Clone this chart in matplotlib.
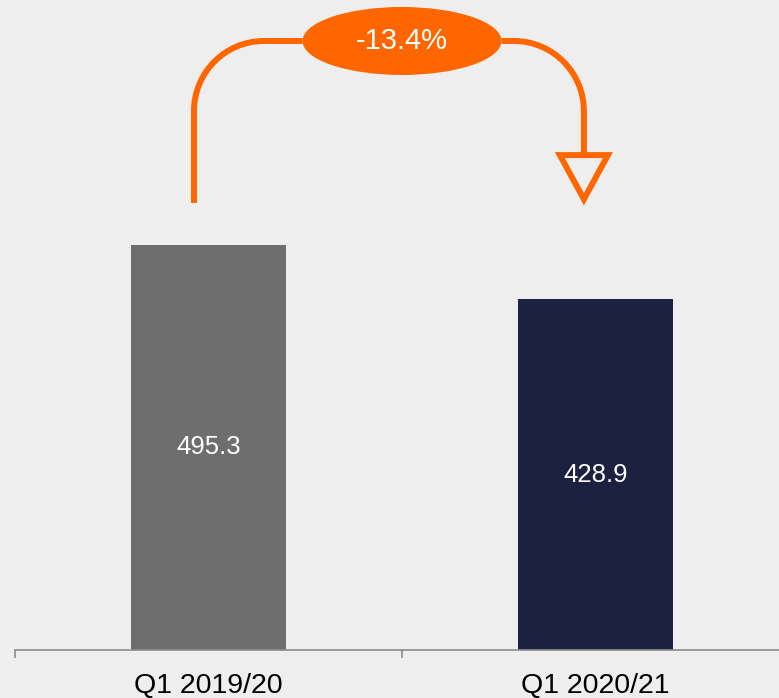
import matplotlib
matplotlib.use("Agg")
import matplotlib.pyplot as plt
from matplotlib.patches import Ellipse, Polygon, PathPatch
from matplotlib.path import Path

plt.rcParams['font.family'] = ['Liberation Sans', 'DejaVu Sans']

categories = ["Q1 2019/20", "Q1 2020/21"]
values = [495.3, 428.9]
bar_colors = ["#6E6E6E", "#1C2140"]
change_label = "-13.4%"

bg = "#EEEEEE"
orange = "#FF6600"

fig = plt.figure(figsize=(7.79, 6.98), dpi=100, facecolor=bg)
ax = fig.add_axes([15/779, 48/698, 774/779, 650/698])
ax.set_facecolor(bg)

x = list(range(len(categories)))
bars = ax.bar(x, values, width=0.4, color=bar_colors, zorder=2)
for xi, v in zip(x, values):
    ax.text(xi, v / 2, f"{v:.1f}", ha="center", va="center", color="white", fontsize=18.5)

ax.set_xlim(-0.5, 1.5)
ax.set_ylim(0, 794.6)

for s in ["left", "top", "right"]:
    ax.spines[s].set_visible(False)
ax.spines["bottom"].set_color("#8C8C8C")
ax.spines["bottom"].set_linewidth(1.2)
ax.set_yticks([])
ax.set_xticks([-0.5, 0.5, 1.5])
ax.set_xticklabels([])
ax.tick_params(axis="x", which="major", length=6, width=1.2, color="#8C8C8C")
ax.set_xticks(x, minor=True)
ax.set_xticklabels(categories, minor=True, fontsize=20.5, color="black")
ax.tick_params(axis="x", which="minor", length=0, pad=16.5)

# connector arrow (data coords, rounded corners drawn as bezier quarter circles)
xs_px, ys_px = 387.0, 0.818  # pixels per data unit
r = 70
rx, ry = r / xs_px, r / ys_px
k = 0.5523
y_top = 744.5
xl, xr = -0.0375, 0.970
ell_w, ell_h = 199 / xs_px, 68 / ys_px
lw = 4.3

verts = [(xl, 546.5), (xl, y_top - ry),
         (xl, y_top - ry + k * ry), (xl + rx - k * rx, y_top), (xl + rx, y_top),
         (0.5 - ell_w / 2, y_top)]
codes = [Path.MOVETO, Path.LINETO, Path.CURVE4, Path.CURVE4, Path.CURVE4, Path.LINETO]
ax.add_patch(PathPatch(Path(verts, codes), fill=False, edgecolor=orange, lw=lw,
                       capstyle="butt", zorder=3))
tri_top = 605
verts = [(0.5 + ell_w / 2, y_top), (xr - rx, y_top),
         (xr - rx + k * rx, y_top), (xr, y_top - ry + k * ry), (xr, y_top - ry),
         (xr, tri_top)]
ax.add_patch(PathPatch(Path(verts, codes), fill=False, edgecolor=orange, lw=lw,
                       capstyle="butt", zorder=3))
tw = 24 / xs_px
ax.add_patch(Polygon([(xr - tw, tri_top), (xr + tw, tri_top), (xr, 551)], closed=True,
                     facecolor=bg, edgecolor=orange, lw=lw, joinstyle="miter", zorder=3))

ax.add_patch(Ellipse((0.5, y_top), ell_w, ell_h, facecolor=orange, edgecolor="none", zorder=4))
ax.text(0.5, y_top, change_label, ha="center", va="center", color="white", fontsize=21, zorder=5)

fig.savefig("out.png", dpi=100, facecolor=bg)
